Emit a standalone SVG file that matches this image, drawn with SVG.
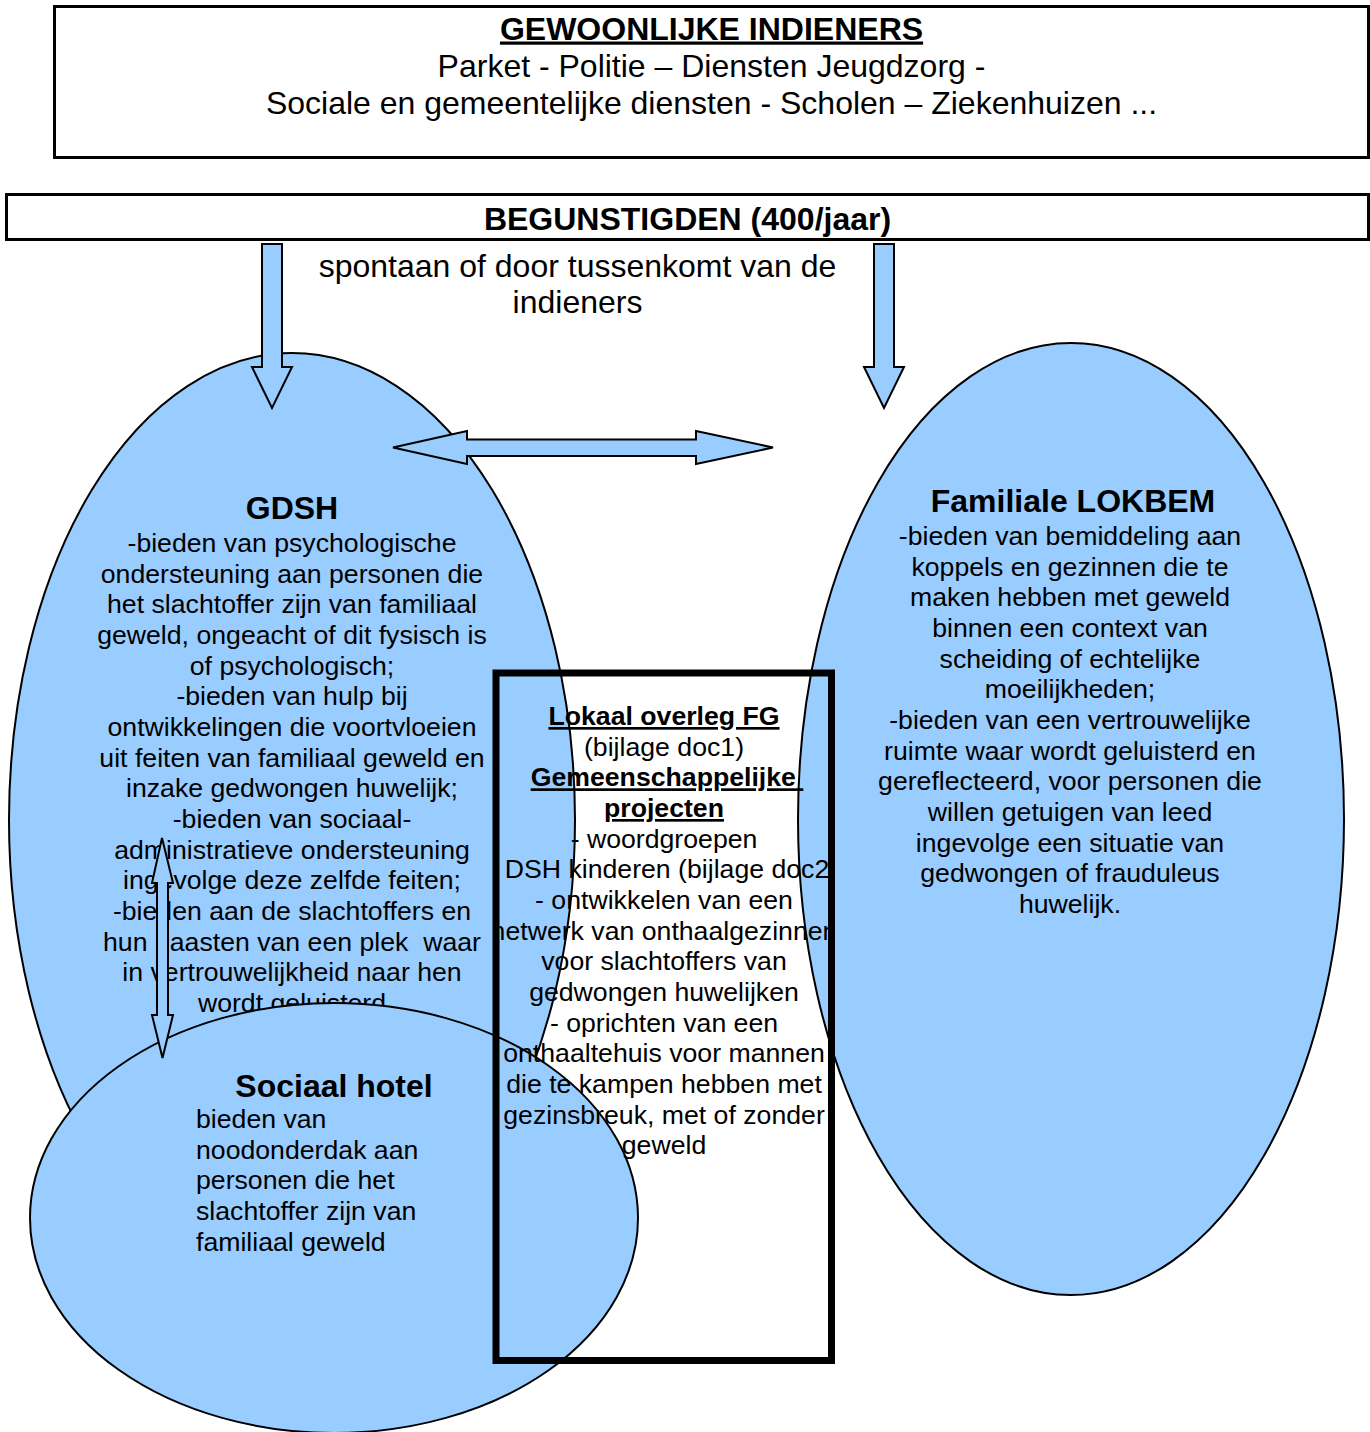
<svg xmlns="http://www.w3.org/2000/svg" width="1370" height="1432" viewBox="0 0 1370 1432">
<style>
text{font-family:"Liberation Sans",Arial,sans-serif;fill:#000;white-space:pre}
.t32{font-size:32px}
.b32{font-size:32px;font-weight:bold}
.b27{font-size:26.67px;font-weight:bold}
.r27{font-size:26.67px}
.mid{text-anchor:middle}
.u{text-decoration:underline}
.box{fill:#fff;stroke:#000;stroke-width:3}
.ell{fill:#99ccff;stroke:#000;stroke-width:2}
.arr{fill:#99ccff;stroke:#000;stroke-width:2;stroke-linejoin:miter}
</style>
<defs>
<clipPath id="midclip"><rect x="499.5" y="676.5" width="328.5" height="680"/></clipPath>
</defs>
<rect width="1370" height="1432" fill="#fff"/>

<g id="indieners">
<rect class="box" x="54.5" y="6.5" width="1314" height="151"/>
<text class="b32 mid u" x="711.5" y="39.5">GEWOONLIJKE INDIENERS</text>
<text class="t32 mid" x="711.5" y="77">Parket - Politie – Diensten Jeugdzorg -</text>
<text class="t32 mid" x="711.5" y="114">Sociale en gemeentelijke diensten - Scholen – Ziekenhuizen ...</text>
</g>

<g id="begunstigden">
<rect class="box" x="6.5" y="194.5" width="1362" height="45"/>
<text class="b32 mid" x="687.5" y="229.5">BEGUNSTIGDEN (400/jaar)</text>
</g>

<g id="label-spontaan">
<text class="t32 mid" x="577.5" y="276.5">spontaan of door tussenkomt van de</text>
<text class="t32 mid" x="577.5" y="313">indieners</text>
</g>

<g id="gdsh">
<ellipse class="ell" cx="292" cy="820" rx="283" ry="467"/>
<text class="b32 mid" x="292" y="519">GDSH</text>
<text class="r27 mid" x="292" y="552">-bieden van psychologische</text>
<text class="r27 mid" x="292" y="582.7">ondersteuning aan personen die</text>
<text class="r27 mid" x="292" y="613.3">het slachtoffer zijn van familiaal</text>
<text class="r27 mid" x="292" y="644">geweld, ongeacht of dit fysisch is</text>
<text class="r27 mid" x="292" y="674.7">of psychologisch;</text>
<text class="r27 mid" x="292" y="705.3">-bieden van hulp bij</text>
<text class="r27 mid" x="292" y="736">ontwikkelingen die voortvloeien</text>
<text class="r27 mid" x="292" y="766.7">uit feiten van familiaal geweld en</text>
<text class="r27 mid" x="292" y="797.3">inzake gedwongen huwelijk;</text>
<text class="r27 mid" x="292" y="828">-bieden van sociaal-</text>
<text class="r27 mid" x="292" y="858.7">administratieve ondersteuning</text>
<text class="r27 mid" x="292" y="889.3">ingevolge deze zelfde feiten;</text>
<text class="r27 mid" x="292" y="920">-bieden aan de slachtoffers en</text>
<text class="r27 mid" x="292" y="950.7">hun naasten van een plek  waar</text>
<text class="r27 mid" x="292" y="981.3">in vertrouwelijkheid naar hen</text>
<text class="r27 mid" x="292" y="1012">wordt geluisterd</text>
</g>

<g id="lokbem">
<ellipse class="ell" cx="1071" cy="819" rx="273" ry="476"/>
<text class="b32 mid" x="1073" y="512">Familiale LOKBEM</text>
<text class="r27 mid" x="1070" y="545">-bieden van bemiddeling aan</text>
<text class="r27 mid" x="1070" y="575.7">koppels en gezinnen die te</text>
<text class="r27 mid" x="1070" y="606.3">maken hebben met geweld</text>
<text class="r27 mid" x="1070" y="637">binnen een context van</text>
<text class="r27 mid" x="1070" y="667.7">scheiding of echtelijke</text>
<text class="r27 mid" x="1070" y="698.3">moeilijkheden;</text>
<text class="r27 mid" x="1070" y="729">-bieden van een vertrouwelijke</text>
<text class="r27 mid" x="1070" y="759.7">ruimte waar wordt geluisterd en</text>
<text class="r27 mid" x="1070" y="790.3">gereflecteerd, voor personen die</text>
<text class="r27 mid" x="1070" y="821">willen getuigen van leed</text>
<text class="r27 mid" x="1070" y="851.7">ingevolge een situatie van</text>
<text class="r27 mid" x="1070" y="882.3">gedwongen of frauduleus</text>
<text class="r27 mid" x="1070" y="913">huwelijk.</text>
</g>

<g id="sociaal-hotel">
<ellipse class="ell" cx="334" cy="1218" rx="304" ry="215"/>
<text class="b32 mid" x="334" y="1097">Sociaal hotel</text>
<text class="r27" x="196" y="1128">bieden van</text>
<text class="r27" x="196" y="1158.7">noodonderdak aan</text>
<text class="r27" x="196" y="1189.3">personen die het</text>
<text class="r27" x="196" y="1220">slachtoffer zijn van</text>
<text class="r27" x="196" y="1250.7">familiaal geweld</text>
</g>

<g id="lokaal-overleg">
<rect x="496" y="673" width="335.5" height="687.5" fill="none" stroke="#000" stroke-width="7"/>
<g clip-path="url(#midclip)">
<text class="b27 mid u" x="664" y="725">Lokaal overleg FG</text>
<text class="r27 mid" x="664" y="755.7">(bijlage doc1)</text>
<text class="b27 mid u" x="667" y="786.3">Gemeenschappelijke </text>
<text class="b27 mid u" x="664" y="817">projecten</text>
<text class="r27 mid" x="664" y="847.7">- woordgroepen</text>
<text class="r27 mid" x="667" y="878.3">DSH kinderen (bijlage doc2</text>
<text class="r27 mid" x="664" y="909">- ontwikkelen van een</text>
<text class="r27 mid" x="664" y="939.7">netwerk van onthaalgezinnen</text>
<text class="r27 mid" x="664" y="970.3">voor slachtoffers van</text>
<text class="r27 mid" x="664" y="1001">gedwongen huwelijken</text>
<text class="r27 mid" x="664" y="1031.7">- oprichten van een</text>
<text class="r27 mid" x="664" y="1062.3">onthaaltehuis voor mannen</text>
<text class="r27 mid" x="664" y="1093">die te kampen hebben met</text>
<text class="r27 mid" x="664" y="1123.7">gezinsbreuk, met of zonder</text>
<text class="r27 mid" x="664" y="1154.3">geweld</text>
</g>
</g>

<g id="connectors">
<path class="arr" d="M262,244 H282 V367 H292 L272,408 L252,367 H262 Z"/>
<path class="arr" d="M874,244 H894 V367 H904 L884,408 L864,367 H874 Z"/>
<path class="arr" d="M393,447.5 L467,431 V439.5 H696 V431 L773,447.5 L696,464 V456 H467 V464 Z"/>
<path class="arr" d="M162,838 L173,883 H168 V1015 H173 L162.5,1058 L152,1015 H157 V883 H152 Z"/>
</g>
</svg>
